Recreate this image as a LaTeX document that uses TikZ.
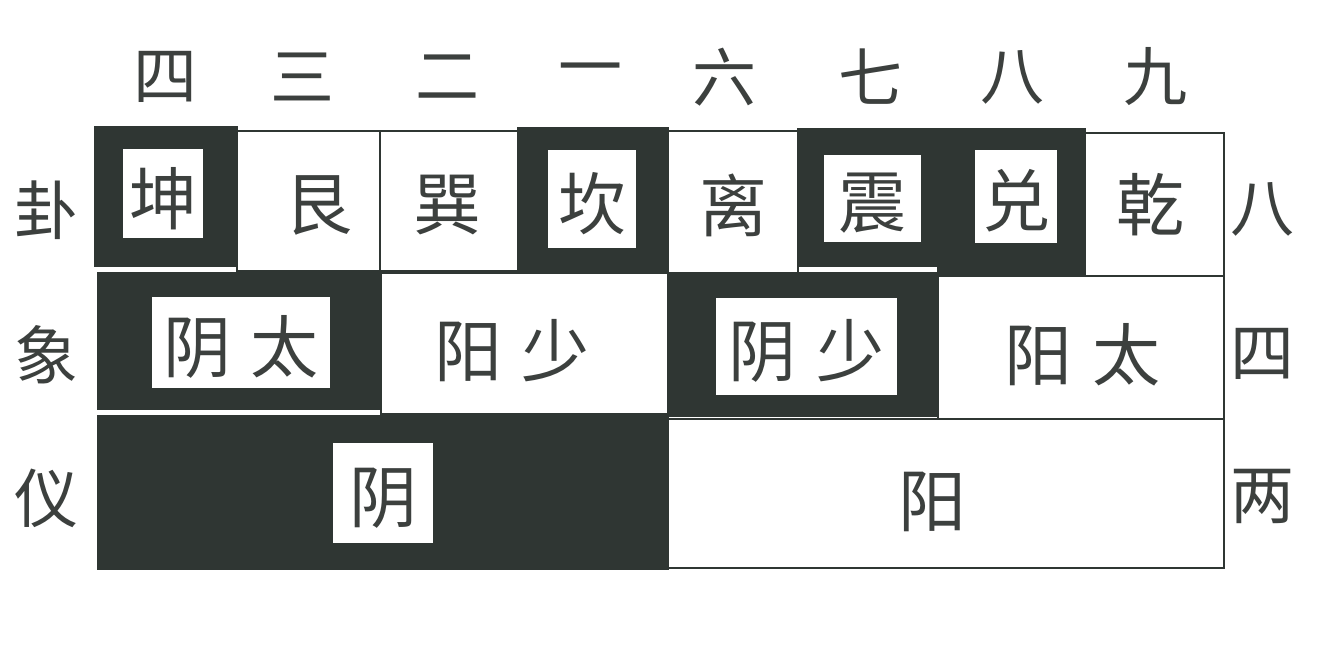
\documentclass[tikz,border=0pt]{standalone}
\usepackage{fontspec}
\newfontfamily\cjk{Noto Sans CJK SC}
\definecolor{dk}{RGB}{47,54,51}
\definecolor{ink}{RGB}{60,64,62}
\begin{document}
\begin{tikzpicture}[x=1pt,y=-1pt,
  dkcell/.style={fill=dk,draw=dk,line width=1.8pt,inner sep=0pt,anchor=north west},
  wtcell/.style={fill=white,draw=dk,line width=1.8pt,inner sep=0pt,anchor=north west},
  inset/.style={fill=white,draw=none,inner sep=0pt},
  ch/.style={font=\cjk\fontsize{68}{68}\selectfont,text=ink,inner sep=0pt,yshift=-5pt},
  lab/.style={font=\cjk\fontsize{64}{64}\selectfont,text=ink,inner sep=0pt,yshift=-2pt}]
\useasboundingbox[fill=white] (0,0) rectangle (1338,664);
% row 1 cells
\node[dkcell,minimum width=142pt,minimum height=139pt] (c1) at (94,126) {};
\node[wtcell,minimum width=143pt,minimum height=140pt] (c2) at (236,130) {};
\node[wtcell,minimum width=138pt,minimum height=140pt] (c3) at (379,130) {};
\node[dkcell,minimum width=150pt,minimum height=145pt] (c4) at (517,127) {};
\node[wtcell,minimum width=130pt,minimum height=142pt] (c5) at (667,130) {};
\node[dkcell,minimum width=140pt,minimum height=137pt] (c6) at (797,128) {};
\node[dkcell,minimum width=147pt,minimum height=147pt] (c7) at (937,128) {};
\node[wtcell,minimum width=139pt,minimum height=143pt] (c8) at (1084,132) {};
% row 2 cells
\node[dkcell,minimum width=283pt,minimum height=136pt] (s1) at (97,272) {};
\node[wtcell,minimum width=287pt,minimum height=141pt] (s2) at (380,272) {};
\node[dkcell,minimum width=270pt,minimum height=143pt] (s3) at (667,272) {};
\node[wtcell,minimum width=286pt,minimum height=143pt] (s4) at (937,275) {};
% row 3 cells
\node[dkcell,minimum width=570pt,minimum height=153pt] (y1) at (97,415) {};
\node[wtcell,minimum width=556pt,minimum height=149pt] (y2) at (667,418) {};
% insets
\node[inset,minimum width=80pt,minimum height=89pt] (i1) at (163,193.5) {};
\node[inset,minimum width=88pt,minimum height=98pt] (i4) at (592,199) {};
\node[inset,minimum width=97pt,minimum height=87pt] (i6) at (872,198) {};
\node[inset,minimum width=82pt,minimum height=93pt] (i7) at (1016,196) {};
\node[inset,minimum width=178pt,minimum height=91pt] (j1) at (241,342) {};
\node[inset,minimum width=181pt,minimum height=97pt] (j3) at (806,346) {};
\node[inset,minimum width=100pt,minimum height=100pt] (k1) at (383,493) {};
% row 1 text
\node[ch] (t1) at (i1.center) {坤};
\node[ch] (t2) at (318,200) {艮};
\node[ch] (t3) at (447,200) {巽};
\node[ch] (t4) at (i4.center) {坎};
\node[ch] (t5) at (733,200) {离};
\node[ch] (t6) at (i6.center) {震};
\node[ch] (t7) at (i7.center) {兑};
\node[ch] (t8) at (1150,200) {乾};
% row 2 text
\node[ch] (u1) at (j1.center) {阴\hspace{20pt}太};
\node[ch] (u2) at (512,346) {阳\hspace{20pt}少};
\node[ch] (u3) at (j3.center) {阴\hspace{20pt}少};
\node[ch] (u4) at (1082,350) {阳\hspace{20pt}太};
% row 3 text
\node[ch] (v1) at (k1.center) {阴};
\node[ch] (v2) at (932,497) {阳};
% top labels
\node[lab] (n4) at (165,75) {四};
\node[lab] (n3) at (302,75) {三};
\node[lab] (n2) at (447,75) {二};
\node[lab] (n1) at (590,75) {一};
\node[lab] (n6) at (724,75) {六};
\node[lab] (n7) at (870,75) {七};
\node[lab] (n8) at (1012,75) {八};
\node[lab] (n9) at (1155,75) {九};
% left labels
\node[lab] (l1) at (46,208) {卦};
\node[lab] (l2) at (46,353) {象};
\node[lab] (l3) at (46,496) {仪};
% right labels
\node[lab] (r1) at (1262,207) {八};
\node[lab] (r2) at (1262,352) {四};
\node[lab] (r3) at (1262,494) {两};
\end{tikzpicture}
\end{document}
